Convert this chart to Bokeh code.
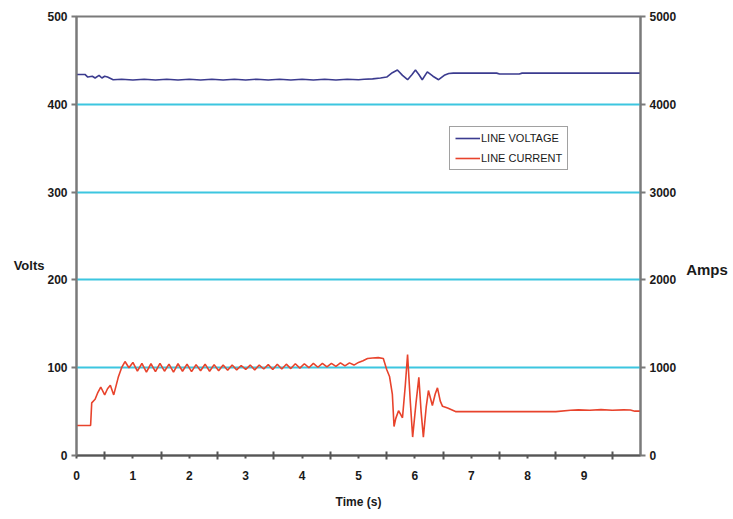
from bokeh.plotting import figure
from bokeh.models import (Range1d, LinearAxis, FixedTicker, Legend, LegendItem)
from bokeh.embed import file_html
from bokeh.resources import INLINE

# ---- data ----
volt_t = [0, 0.15, 0.2, 0.28, 0.33, 0.4, 0.45, 0.5, 0.55, 0.65,
          0.8, 1.0, 1.2, 1.4, 1.6, 1.8, 2.0, 2.2, 2.4, 2.6, 2.8, 3.0, 3.2, 3.4,
          3.6, 3.8, 4.0, 4.2, 4.4, 4.6, 4.8, 5.0, 5.1, 5.25, 5.39, 5.5, 5.6,
          5.69, 5.78, 5.87, 5.95, 6.01, 6.07, 6.13, 6.22, 6.32, 6.42, 6.52,
          6.6, 6.68, 7.45, 7.5, 7.85, 7.9, 10.0]
volt_v = [434, 434, 431, 432, 430, 433, 430, 432, 431, 428,
          428.6, 427.6, 428.6, 427.6, 428.6, 427.6, 428.6, 427.6, 428.6, 427.6,
          428.6, 427.6, 428.6, 427.6, 428.6, 427.6, 428.6, 427.6, 428.6, 427.6,
          428.6, 428, 428.5, 429, 430, 431, 436,
          439, 433, 428, 434, 439, 434, 428, 437, 432, 428, 433,
          435, 435.5, 435.5, 434.5, 434.5, 435.5, 435.5]

amp_t = [0, 0.25, 0.27, 0.33, 0.38, 0.43, 0.5, 0.55, 0.6, 0.66, 0.74, 0.8,
         0.86, 0.93, 1.0, 1.08, 1.16, 1.24, 1.32, 1.40, 1.48, 1.56, 1.64, 1.72,
         1.80, 1.88, 1.96, 2.04, 2.12, 2.20, 2.28, 2.36, 2.44, 2.52, 2.60, 2.68,
         2.76, 2.84, 2.92, 3.00, 3.08, 3.16, 3.24, 3.32, 3.40, 3.48, 3.56, 3.64,
         3.72, 3.80, 3.88, 3.96, 4.04, 4.12, 4.20, 4.28, 4.36, 4.44, 4.52, 4.60,
         4.68, 4.76, 4.84, 4.92, 5.00, 5.08, 5.16, 5.25, 5.35, 5.44, 5.50, 5.55,
         5.60, 5.63, 5.66, 5.71, 5.78, 5.83, 5.87, 5.92, 5.96, 6.02, 6.07, 6.11,
         6.15, 6.20, 6.24, 6.31, 6.36, 6.40, 6.45, 6.49, 6.58, 6.65, 6.72, 7.5,
         8.5, 8.76, 8.9, 9.1, 9.3, 9.5, 9.7, 9.82, 9.9, 10.0]
amp_v = [342, 342, 600, 640, 720, 780, 690, 760, 800, 690, 890, 1000,
         1070, 1000, 1060, 960, 1050, 950, 1045, 955, 1050, 960, 1040, 950,
         1045, 960, 1040, 955, 1035, 965, 1040, 960, 1035, 965, 1030, 970,
         1030, 975, 1025, 980, 1030, 975, 1030, 985, 1035, 980, 1040, 985,
         1040, 990, 1045, 995, 1045, 1000, 1050, 1005, 1050, 1010, 1050, 1015,
         1055, 1020, 1055, 1030, 1060, 1080, 1105, 1110, 1115, 1105, 980, 900,
         700, 330, 420, 510, 430, 800, 1150, 600, 210, 600, 890, 500,
         210, 550, 740, 570, 700, 770, 620, 560, 540, 520, 500, 500,
         500, 515, 520, 515, 522, 516, 520, 518, 505, 505]

x_ticks = [0, 1, 2, 3, 4, 5, 6, 7, 8, 9]
x_minor = [0.5, 1.5, 2.5, 3.5, 4.5, 5.5, 6.5, 7.5, 8.5, 9.5]
volt_ticks = [0, 100, 200, 300, 400, 500]
amp_ticks = [0, 1000, 2000, 3000, 4000, 5000]
grid_lines = [100, 200, 300, 400]

FONT = "Liberation Sans"
TXT = "#1a1a1a"
AX = "#7a7a7a"

p = figure(frame_width=564, frame_height=439, output_backend="svg",
           toolbar_location=None, x_range=Range1d(0, 10), y_range=Range1d(0, 500),
           min_border_left=76, min_border_top=16, min_border_right=85,
           min_border_bottom=56, background_fill_color="white",
           border_fill_color="white", outline_line_color=AX, outline_line_width=2)
p.extra_y_ranges = {"amps": Range1d(0, 5000)}

p.xgrid.visible = False
p.ygrid.ticker = FixedTicker(ticks=grid_lines)
p.ygrid.grid_line_color = "#3cc6e0"
p.ygrid.grid_line_width = 2

# x axis
xa = p.xaxis[0]
xa.ticker = FixedTicker(ticks=x_ticks, minor_ticks=x_minor)
xa.axis_line_color = "#555555"
xa.axis_line_width = 2
xa.major_tick_in = 0
xa.major_tick_out = 3
xa.minor_tick_in = 4
xa.minor_tick_out = 4
xa.major_tick_line_color = "#555555"
xa.minor_tick_line_color = "#555555"
xa.major_tick_line_width = 2
xa.minor_tick_line_width = 2
xa.major_label_standoff = 11
xa.major_label_text_font = FONT
xa.major_label_text_font_style = "bold"
xa.major_label_text_font_size = "12px"
xa.major_label_text_color = TXT
xa.axis_label = "Time (s)"
xa.axis_label_text_font = FONT
xa.axis_label_text_font_style = "bold"
xa.axis_label_text_font_size = "12px"
xa.axis_label_text_color = TXT
xa.axis_label_standoff = 12

# left axis
ya = p.yaxis[0]
ya.ticker = FixedTicker(ticks=volt_ticks)
ya.axis_line_color = AX
ya.axis_line_width = 2
ya.major_tick_in = 0
ya.major_tick_out = 5
ya.minor_tick_in = 0
ya.minor_tick_out = 0
ya.major_tick_line_color = AX
ya.major_tick_line_width = 2
ya.major_label_standoff = 4
ya.major_label_text_font = FONT
ya.major_label_text_font_style = "bold"
ya.major_label_text_font_size = "12px"
ya.major_label_text_color = TXT
ya.axis_label = "\n\n\n\nVolts"
ya.axis_label_orientation = "horizontal"
ya.axis_label_standoff = 0
ya.axis_label_text_font = FONT
ya.axis_label_text_font_style = "bold"
ya.axis_label_text_font_size = "13px"
ya.axis_label_text_line_height = 0.97
ya.axis_label_text_color = TXT

# right axis
ra = LinearAxis(y_range_name="amps", ticker=FixedTicker(ticks=amp_ticks))
ra.axis_line_color = AX
ra.axis_line_width = 2
ra.major_tick_in = 0
ra.major_tick_out = 5
ra.minor_tick_in = 0
ra.minor_tick_out = 0
ra.major_tick_line_color = AX
ra.major_tick_line_width = 2
ra.major_label_standoff = 4
ra.major_label_text_font = FONT
ra.major_label_text_font_style = "bold"
ra.major_label_text_font_size = "12px"
ra.major_label_text_color = TXT
ra.axis_label = "\n\n\n\nAmps"
ra.axis_label_orientation = "horizontal"
ra.axis_label_standoff = 7
ra.axis_label_text_font = FONT
ra.axis_label_text_font_style = "bold"
ra.axis_label_text_font_size = "15px"
ra.axis_label_text_line_height = 0.98
ra.axis_label_text_color = TXT
p.add_layout(ra, "right")

r_v = p.line(volt_t, volt_v, line_color="#3b3b8f", line_width=1.6)
r_a = p.line(amp_t, amp_v, line_color="#e8432c", line_width=1.6, y_range_name="amps")

legend = Legend(items=[LegendItem(label="LINE VOLTAGE", renderers=[r_v]),
                       LegendItem(label="LINE CURRENT", renderers=[r_a])],
                location=(373, 285), orientation="vertical")
legend.label_text_font = FONT
legend.label_text_font_size = "11px"
legend.label_text_color = TXT
legend.glyph_width = 25
legend.glyph_height = 12
legend.label_height = 12
legend.label_standoff = 1
legend.spacing = 8
legend.padding = 5
legend.margin = 0
legend.border_line_color = "#444444"
legend.border_line_width = 1
legend.background_fill_alpha = 1
p.add_layout(legend, "center")

open("out.html", "w").write(file_html(p, INLINE))
